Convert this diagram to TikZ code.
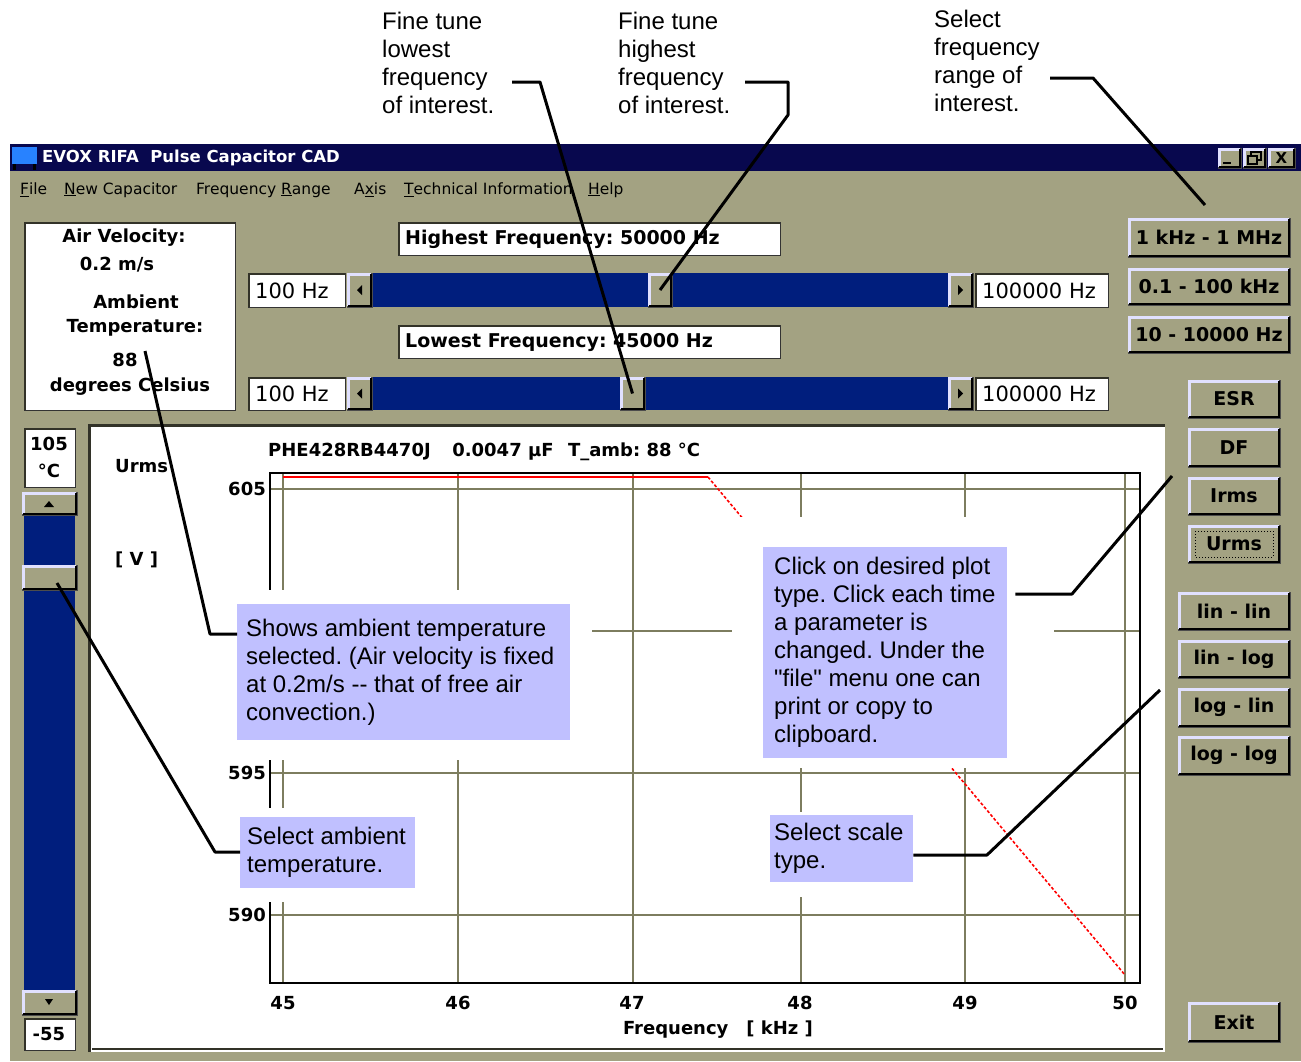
\documentclass[tikz,border=0pt]{standalone}
\usepackage{fontspec}
\setmainfont{Liberation Sans}
\newfontfamily\callf{Liberation Sans}
\newfontfamily\ui{DejaVu Sans}
\usetikzlibrary{calc}
\frenchspacing
\definecolor{winbg}{RGB}{163,162,130}
\definecolor{titlebar}{RGB}{8,8,78}
\definecolor{track}{RGB}{0,30,125}
\definecolor{gridc}{RGB}{125,125,95}
\definecolor{callc}{RGB}{192,192,255}
\definecolor{hilite}{RGB}{225,225,255}
\definecolor{fielddark}{RGB}{50,50,40}
\definecolor{iconblue}{RGB}{40,130,255}
\definecolor{plotred}{RGB}{255,0,0}
\newcommand\tfnt{\ui\bfseries\fontsize{16.5}{19}\selectfont}
\newcommand\mfnt{\ui\fontsize{15.5}{18}\selectfont}
\newcommand\bfnt{\ui\bfseries\fontsize{19}{22}\selectfont}
\newcommand\ifnt{\ui\bfseries\fontsize{18}{21}\selectfont}
\newcommand\vfnt{\ui\fontsize{21}{24}\selectfont}
\newcommand\cfnt{\callf\fontsize{24}{28}\selectfont}
% button: [font]{name}{x1}{y1}{x2}{y2}{text}
\newcommand\winbtn[7][\bfnt]{%
  \node[btnbox, font=#1, minimum width={#5-#3}, minimum height={#6-#4}] (#2) at ({(#3+#5)/2},{(#4+#6)/2}) {#7};
  \draw[hilite, line width=2.5] ({#3+1.25},{#6-1}) -- ({#3+1.25},{#4+1.25}) -- ({#5-1},{#4+1.25});
  \draw[black, line width=2.5] ({#3+1},{#6-1.25}) -- ({#5-1.25},{#6-1.25}) -- ({#5-1.25},{#4+1});
}
% sunken field: {name}{x1}{y1}{x2}{y2}
\newcommand\winfield[5]{%
  \node[fieldbox, minimum width={#4-#2}, minimum height={#5-#3}] (#1) at ({(#2+#4)/2},{(#3+#5)/2}) {};
  \draw[fielddark, line width=2] ({#2+1},{#5}) -- ({#2+1},{#3+1}) -- ({#4},{#3+1});
}
\begin{document}
\begin{tikzpicture}[x=1pt,y=-1pt,
  btnbox/.style={draw=black!70, line width=0.8, fill=winbg, inner sep=0pt},
  fieldbox/.style={draw=black!80, line width=0.8, fill=white, inner sep=0pt},
  trackbox/.style={fill=track, draw=none, inner sep=0pt},
  menu/.style={font=\mfnt, anchor=west, inner sep=0pt},
  lbl/.style={font=\ifnt, inner sep=0pt},
  uitext/.style={font=\bfnt, anchor=west, inner sep=0pt},
  valtext/.style={font=\vfnt, anchor=west, inner sep=0pt},
  gline/.style={gridc, line width=2},
  callbox/.style={fill=callc, draw=none, anchor=north west, inner sep=0pt},
  calltext/.style={font=\cfnt, align=left, anchor=west, inner sep=0pt},
  note/.style={font=\cfnt, align=left, anchor=north west, inner sep=0pt},
  conn/.style={black, line width=3, line join=round},
  mask/.style={fill=white, draw=none}]
\useasboundingbox (0,0) rectangle (1301,1061);
\fill[white] (0,0) rectangle (1301,1061);
\fill[winbg] (10,144) rectangle (1301,1061);

% annotations above the window
\node[note] (n1) at (382,12) {Fine tune\\lowest\\frequency\\of interest.};
\node[note] (n2) at (618,12) {Fine tune\\highest\\frequency\\of interest.};
\node[note] (n3) at (934,10) {Select\\frequency\\range of\\interest.};

% title bar
\fill[titlebar] (10,144) rectangle (1301,171);
\fill[iconblue] (12,147) rectangle (37,164);
\fill[black] (13,164) rectangle (16,170);
\fill[black] (33,164) rectangle (36,170);
\node[font=\tfnt, text=white, anchor=west, inner sep=0pt] (title) at (42,158) {EVOX RIFA\ \ Pulse Capacitor CAD};
\winbtn{bmin}{1218}{148}{1241}{168}{}
\draw[black, line width=2] (1223,163) -- (1231,163);
\winbtn{bmax}{1243}{148}{1266}{168}{}
\draw[black, line width=1.2] (1251,152) rectangle (1261,160);
\draw[black, line width=1.2, fill=winbg] (1248,156) rectangle (1257,164);
\winbtn[\ui\bfseries\fontsize{15}{17}\selectfont]{bcls}{1268}{148}{1295}{168}{X}

% menu
\node[menu] (mfile) at (20,190) {\underline{F}ile};
\node[menu] (mnew) at (64,190) {\underline{N}ew Capacitor};
\node[menu] (mfreq) at (196,190) {Frequency \underline{R}ange};
\node[menu] (maxis) at (354,190) {A\underline{x}is};
\node[menu] (mtech) at (404,190) {\underline{T}echnical Information};
\node[menu] (mhelp) at (588,190) {\underline{H}elp};

% info box
\winfield{info}{24}{222}{235}{410}
\node[lbl] (av) at (124,238) {Air Velocity:};
\node[lbl] (avv) at (117,265) {0.2 m/s};
\node[lbl] (amb) at (136,302) {Ambient};
\node[lbl] (ambt) at (135,328) {Temperature:};
\node[lbl] (ambv) at (125,360) {88};
\node[lbl] (ambu) at (130,387) {degrees Celsius};

% frequency fields
\winfield{hf}{398}{222}{780}{255}
\node[uitext] (hft) at (405,239) {Highest Frequency: 50000 Hz};
\winfield{lf}{398}{325}{780}{358}
\node[uitext] (lft) at (405,342) {Lowest Frequency: 45000 Hz};

% upper slider
\winfield{lo1}{248}{273}{345}{307}
\node[valtext] (lo1t) at (255,291) {100 Hz};
\node[trackbox, minimum width=576, minimum height=34] (tr1) at (660,290) {};
\winbtn{la1}{347}{273}{372}{307}{}
\fill[black] (357,290) -- (362,285) -- (362,295) -- cycle;
\winbtn{ra1}{948}{273}{973}{307}{}
\fill[black] (963,290) -- (958,285) -- (958,295) -- cycle;
\winbtn{th1}{648}{273}{672}{307}{}
\winfield{hi1}{975}{273}{1108}{307}
\node[valtext] (hi1t) at (982,291) {100000 Hz};

% lower slider
\winfield{lo2}{248}{377}{345}{410}
\node[valtext] (lo2t) at (255,394) {100 Hz};
\node[trackbox, minimum width=576, minimum height=33] (tr2) at (660,393.5) {};
\winbtn{la2}{347}{377}{372}{410}{}
\fill[black] (357,393.5) -- (362,388.5) -- (362,398.5) -- cycle;
\winbtn{ra2}{948}{377}{973}{410}{}
\fill[black] (963,393.5) -- (958,388.5) -- (958,398.5) -- cycle;
\winbtn{th2}{620}{377}{645}{410}{}
\winfield{hi2}{975}{377}{1108}{410}
\node[valtext] (hi2t) at (982,394) {100000 Hz};

% range buttons
\winbtn{r1}{1128}{218}{1290}{257}{1 kHz - 1 MHz}
\winbtn{r2}{1128}{268}{1290}{305}{0.1 - 100 kHz}
\winbtn{r3}{1128}{316}{1290}{353}{10 - 10000 Hz}

% plot type buttons
\winbtn{besr}{1188}{380}{1280}{418}{ESR}
\winbtn{bdf}{1188}{428}{1280}{467}{DF}
\winbtn{birms}{1188}{477}{1280}{515}{Irms}
\winbtn{burms}{1188}{525}{1280}{563}{Urms}
\draw[black, line width=1, dotted] (1195,531) rectangle (1273,557);

% scale buttons
\winbtn{sll}{1178}{592}{1290}{630}{lin - lin}
\winbtn{slg}{1178}{640}{1290}{678}{lin - log}
\winbtn{sgl}{1178}{688}{1290}{727}{log - lin}
\winbtn{sgg}{1178}{736}{1290}{775}{log - log}

\winbtn{bexit}{1188}{1002}{1280}{1042}{Exit}

% vertical temperature slider
\winfield{tmax}{24}{428}{75}{487}
\node[lbl] (tmaxt) at (49,444) {105};
\node[lbl] (tmaxu) at (49,471) {°C};
\node[trackbox, minimum width=51, minimum height=475] (vtr) at (49.5,752.5) {};
\winbtn{vup}{22}{492}{77}{515}{}
\fill[black] (44,507) -- (54,507) -- (49,501) -- cycle;
\winbtn{vth}{22}{565}{77}{590}{}
\winbtn{vdn}{22}{990}{77}{1015}{}
\fill[black] (45,999) -- (53,999) -- (49,1005) -- cycle;
\winfield{tmin}{24}{1018}{75}{1050}
\node[lbl] (tmint) at (49,1034) {-55};

% plot panel
\fill[white] (88,424) rectangle (1165,1052);
\draw[fielddark, line width=3] (89.5,1052) -- (89.5,425.5) -- (1165,425.5);
\draw[fielddark, line width=2] (92,1049) -- (1163,1049);

\node[lbl, anchor=west] (ptitle) at (268,452) {PHE428RB4470J\hspace{1.2em}0.0047 µF\hspace{0.8em}T\_amb: 88 °C};
\node[lbl, anchor=west] (ylab) at (115,466) {Urms};
\node[lbl, anchor=west] (yunit) at (115,560) {[ V ]};

\foreach \gx in {283,458,633,801,965,1125} \draw[gline] (\gx,473) -- (\gx,983);
\foreach \gy in {489,631,773,915} \draw[gline] (270,\gy) -- (1140,\gy);
\draw[plotred, line width=1.6] (283,477) -- (708,477);
\draw[plotred, line width=1.6, dash pattern=on 3pt off 2pt] (708,477) -- (1125,975);
\node[draw=black, line width=1.6, minimum width=870, minimum height=510, inner sep=0pt] (axes) at (705,728) {};

\node[lbl, anchor=east] (y605) at (266,489) {605};
\node[lbl, anchor=east] (y595) at (266,773) {595};
\node[lbl, anchor=east] (y590) at (266,915) {590};
\node[lbl] (x45) at (283,1003) {45};
\node[lbl] (x46) at (458,1003) {46};
\node[lbl] (x47) at (632,1003) {47};
\node[lbl] (x48) at (800,1003) {48};
\node[lbl] (x49) at (965,1003) {49};
\node[lbl] (x50) at (1125,1003) {50};
\node[lbl] (xlab) at (718,1030) {Frequency\hspace{1em}[ kHz ]};

% white margins behind the callouts
\fill[mask] (215,590) rectangle (592,760);
\fill[mask] (215,808) rectangle (440,902);
\fill[mask] (732,517) rectangle (1054,768);
\fill[mask] (745,812) rectangle (935,897);

% callouts
\node[callbox, minimum width=333, minimum height=136] (c1) at (237,604) {};
\node[calltext] (c1t) at ($(c1.west)+(9,0)$) {Shows ambient temperature\\selected. (Air velocity is fixed\\at 0.2m/s -- that of free air\\convection.)};
\node[callbox, minimum width=175, minimum height=71] (c2) at (240,817) {};
\node[calltext] (c2t) at ($(c2.west)+(7,0)$) {Select ambient\\temperature.};
\node[callbox, minimum width=244, minimum height=211] (c3) at (763,547) {};
\node[calltext] (c3t) at ($(c3.west)+(11,0)$) {Click on desired plot\\type. Click each time\\a parameter is\\changed. Under the\\"file" menu one can\\print or copy to\\clipboard.};
\node[callbox, minimum width=143, minimum height=67] (c4) at (770,815) {};
\node[calltext] (c4t) at ($(c4.west)+(4,0)$) {Select scale\\type.};

% connectors
\coordinate (k1a) at (512,82);
\coordinate (k1b) at (540,82);
\draw[conn] (k1a) -- (k1b) -- (th2.center);
\coordinate (k2a) at (745,82);
\coordinate (k2b) at (788,82);
\coordinate (k2c) at (788,115);
\draw[conn] (k2a) -- (k2b) -- (k2c) -- (th1.center);
\coordinate (k3a) at (1050,78);
\coordinate (k3b) at (1093,78);
\coordinate (k3t) at (1205,205);
\draw[conn] (k3a) -- (k3b) -- (k3t);
\coordinate (k4b) at (210,634);
\coordinate (k4t) at (145,351);
\draw[conn] ($(c1.north west)+(0,30)$) -- (k4b) -- (k4t);
\coordinate (k5b) at (215,852);
\coordinate (k5t) at (57,583);
\draw[conn] ($(c2.north west)+(0,35)$) -- (k5b) -- (k5t);
\coordinate (k6b) at (1072,594);
\coordinate (k6t) at (1172,476);
\draw[conn] ($(c3.north east)+(8,47)$) -- (k6b) -- (k6t);
\coordinate (k7b) at (987,855);
\coordinate (k7t) at (1160,690);
\draw[conn] ($(c4.north east)+(0,40)$) -- (k7b) -- (k7t);
\end{tikzpicture}
\end{document}
